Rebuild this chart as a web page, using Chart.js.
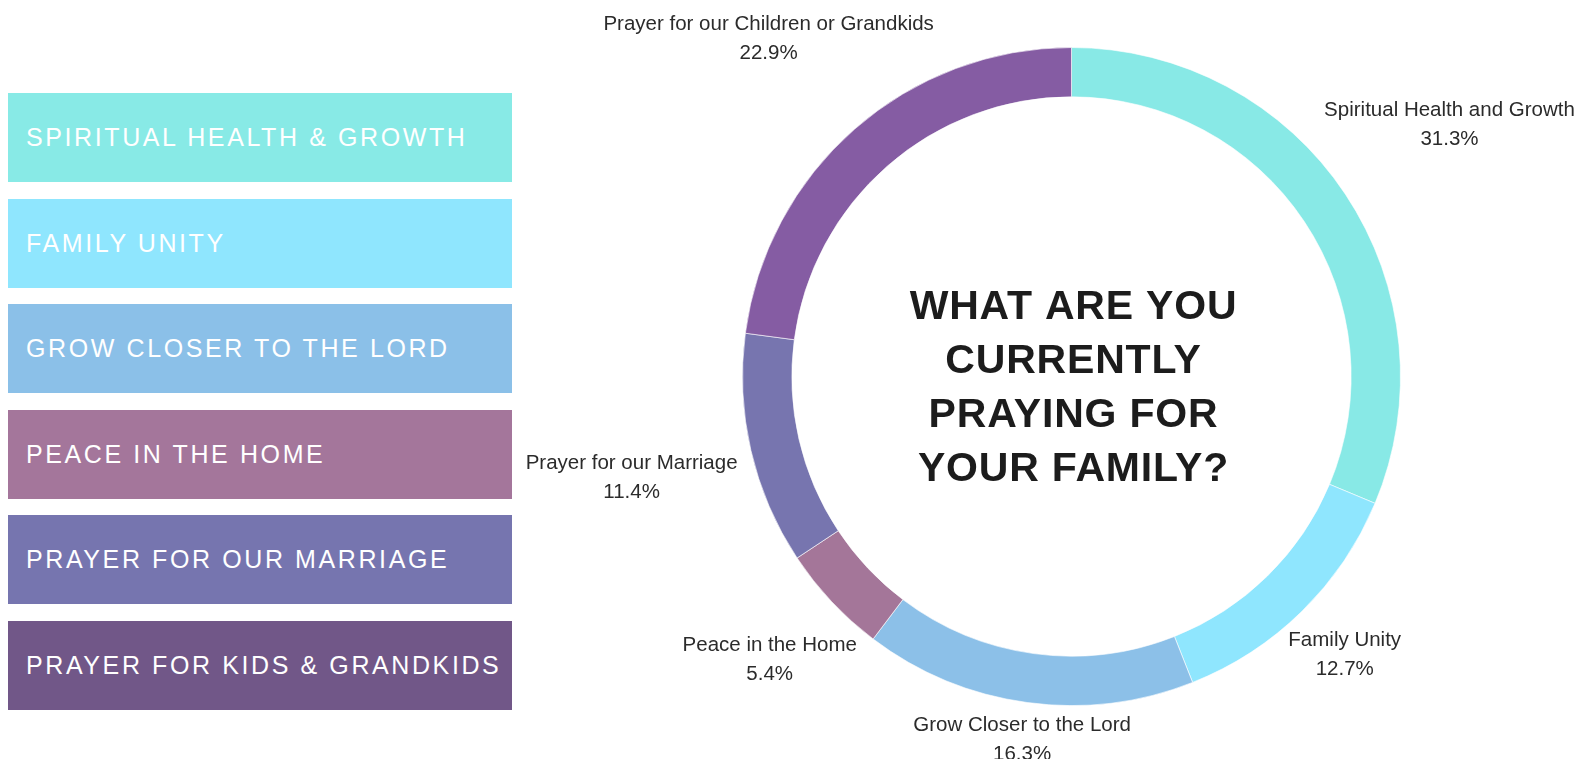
<!DOCTYPE html>
<html>
<head>
<meta charset="utf-8">
<title>What are you currently praying for your family?</title>
<script src="https://cdn.jsdelivr.net/npm/chart.js@4.4.0/dist/chart.umd.min.js"></script>
<style>
  html, body { margin: 0; padding: 0; background: #fff; }
  #wrap { position: relative; width: 1577px; height: 759px; overflow: hidden; }
  #chart { position: absolute; left: 0; top: 0; }
  .key {
    position: absolute;
    left: 8px;
    width: 504px;
    height: 89px;
    box-sizing: border-box;
    padding-left: 18px;
    display: flex;
    align-items: center;
    color: #fff;
    font: 25px "Liberation Sans", Arial, sans-serif;
    letter-spacing: 2.6px;
    text-transform: uppercase;
    white-space: nowrap;
  }
</style>
</head>
<body>
<div id="wrap">
  <div id="keys"></div>
  <canvas id="chart" width="1577" height="759"></canvas>
</div>
<script>
// ---------- Data ----------
const categories = [
  "Spiritual Health and Growth",
  "Family Unity",
  "Grow Closer to the Lord",
  "Peace in the Home",
  "Prayer for our Marriage",
  "Prayer for our Children or Grandkids"
];
const shares = [31.3, 12.7, 16.3, 5.4, 11.4, 22.9];
const keyNames = [
  "Spiritual Health & Growth",
  "Family Unity",
  "Grow Closer to the Lord",
  "Peace in the Home",
  "Prayer for our Marriage",
  "Prayer for Kids & Grandkids"
];
const titleLines = ["WHAT ARE YOU", "CURRENTLY", "PRAYING FOR", "YOUR FAMILY?"];

// ---------- Look ----------
const sliceColors = ["#88e9e6", "#8fe6fe", "#8cc0e8", "#a47699", "#7775af", "#855ca3"];
const keyColors = ["#88eae6", "#8fe6fe", "#8bc0e8", "#a4769b", "#7675af", "#715788"];
const LABEL_FONT = '20.5px "Liberation Sans", Arial, sans-serif';
const LINE_GAP = 29;
const LABEL_GAP = 18;
const LABEL_LIFT = 5;

// ---------- Left-hand key boxes ----------
const keysEl = document.getElementById("keys");
keyNames.forEach((name, i) => {
  const div = document.createElement("div");
  div.className = "key";
  div.style.top = `${93 + i * 105.6}px`;
  div.style.background = keyColors[i];
  div.textContent = name;
  keysEl.appendChild(div);
});

// ---------- Plugins ----------
// name + percentage outside each slice, pushed out along the slice's mid angle
const sliceLabels = {
  id: "sliceLabels",
  afterDatasetsDraw(chart) {
    const ctx = chart.ctx;
    const meta = chart.getDatasetMeta(0);
    ctx.save();
    ctx.font = LABEL_FONT;
    ctx.fillStyle = "#2b2b2b";
    ctx.textAlign = "center";
    ctx.textBaseline = "middle";
    meta.data.forEach((arc, i) => {
      const { x, y, startAngle, endAngle, outerRadius } = arc.getProps(
        ["x", "y", "startAngle", "endAngle", "outerRadius"], true);
      const mid = (startAngle + endAngle) / 2;
      const cos = Math.cos(mid);
      const sin = Math.sin(mid);
      const pct = `${shares[i].toFixed(1)}%`;
      const w = Math.max(ctx.measureText(categories[i]).width, ctx.measureText(pct).width);
      const d = outerRadius + LABEL_GAP + Math.abs(cos) * w / 2 + Math.abs(sin) * LABEL_LIFT;
      const cx = x + cos * d;
      // keep the top label inside the canvas
      const cy = Math.max(y + sin * d, LINE_GAP / 2 + 24);
      ctx.fillText(categories[i], cx, cy - LINE_GAP / 2);
      ctx.fillText(pct, cx, cy + LINE_GAP / 2);
    });
    ctx.restore();
  }
};

// question in the hole of the doughnut
const centerTitle = {
  id: "centerTitle",
  afterDatasetsDraw(chart) {
    const ctx = chart.ctx;
    const arc = chart.getDatasetMeta(0).data[0];
    if (!arc) return;
    ctx.save();
    ctx.font = 'bold 41px "Liberation Sans", Arial, sans-serif';
    if ("letterSpacing" in ctx) ctx.letterSpacing = "0.8px";
    ctx.fillStyle = "#1c1c1c";
    ctx.textAlign = "center";
    ctx.textBaseline = "middle";
    const step = 54;
    const top = arc.y + 12 - step * (titleLines.length - 1) / 2;
    titleLines.forEach((line, i) => {
      ctx.fillText(line, arc.x + 2, top + i * step);
    });
    ctx.restore();
  }
};

// ---------- Chart ----------
new Chart(document.getElementById("chart"), {
  type: "doughnut",
  data: {
    labels: categories,
    datasets: [{
      data: shares,
      backgroundColor: sliceColors,
      borderColor: "rgba(255,255,255,0.6)",
      borderWidth: 1,
      hoverOffset: 0,
      offset: 0
    }]
  },
  options: {
    responsive: false,
    devicePixelRatio: 1,
    animation: false,
    cutout: "85%",
    layout: { padding: { left: 742, right: 176, top: 47, bottom: 53 } },
    plugins: {
      legend: { display: false },
      tooltip: { enabled: false }
    }
  },
  plugins: [sliceLabels, centerTitle]
});
</script>
</body>
</html>
